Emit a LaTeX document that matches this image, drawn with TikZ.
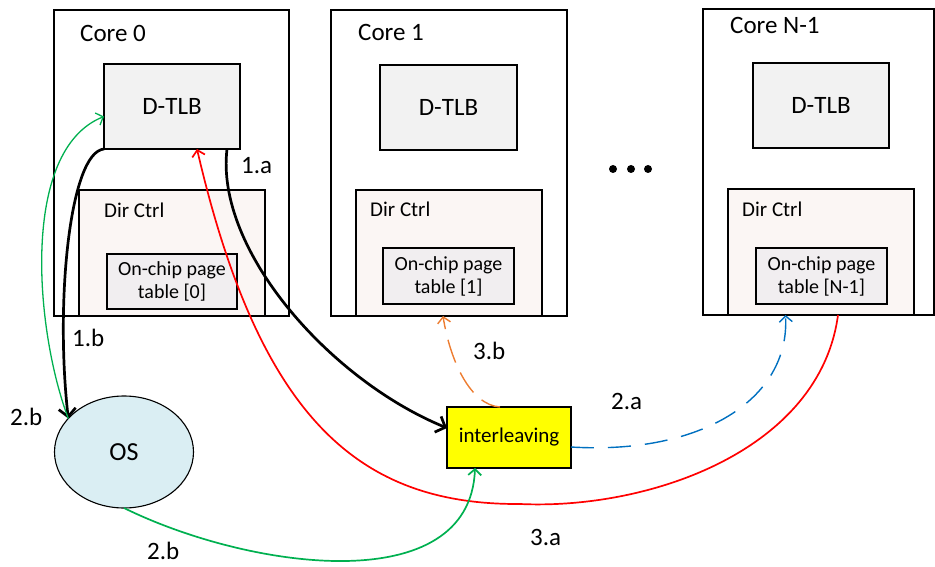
\documentclass[tikz,border=0pt]{standalone}
\usepackage{fontspec}
\setmainfont{Carlito}
\usetikzlibrary{arrows.meta,shapes.geometric}
\definecolor{tlbfill}{HTML}{F2F2F2}
\definecolor{dirfill}{HTML}{FBF6F4}
\definecolor{ocfill}{HTML}{F1EEF0}
\definecolor{osfill}{HTML}{DAEEF3}
\definecolor{ilyellow}{HTML}{FFFF00}
\definecolor{cgreen}{HTML}{00B050}
\definecolor{cred}{HTML}{FF0000}
\definecolor{corange}{HTML}{ED7D31}
\definecolor{cblue}{HTML}{0070C0}
\begin{document}
\begin{tikzpicture}[x=1pt,y=-1pt,
  box/.style={draw, line width=1.1pt, anchor=north west, inner sep=0pt, outer sep=0pt},
  corebox/.style={box, fill=white},
  tlbbox/.style={box, fill=tlbfill, font=\fontsize{25}{30}\selectfont},
  dirbox/.style={box, fill=dirfill},
  ocbox/.style={box, fill=ocfill, align=center, font=\fontsize{20}{23}\selectfont},
  corelbl/.style={anchor=base west, inner sep=0pt, font=\fontsize{25}{30}\selectfont},
  dirlbl/.style={anchor=base west, inner sep=0pt, font=\fontsize{21}{25}\selectfont},
  steplbl/.style={anchor=base west, inner sep=0pt, font=\fontsize{25}{30}\selectfont},
  thinhead/.style={-{Straight Barb[length=6pt,width=13pt]}},
  thickhead/.style={-{Straight Barb[length=8pt,width=17pt]}},
]
\useasboundingbox (0,0) rectangle (935,567);

% Core 0
\node[corebox, minimum width=235pt, minimum height=306pt] (core0) at (54,10) {};
\node[corelbl] (core0l) at (80,42) {Core 0};
\node[tlbbox, minimum width=136pt, minimum height=85pt] (dtlb0) at (104,64) {D-TLB};
\node[dirbox, minimum width=186pt, minimum height=126pt] (dir0) at (79,190) {};
\node[dirlbl] (dir0l) at (104,218) {Dir Ctrl};
\node[ocbox, minimum width=130pt, minimum height=55pt] (oc0) at (107,254) {On-chip page\\table [0]};

% Core 1
\node[corebox, minimum width=236pt, minimum height=306pt] (core1) at (331,10) {};
\node[corelbl] (core1l) at (358,41) {Core 1};
\node[tlbbox, minimum width=137pt, minimum height=85pt] (dtlb1) at (380,65) {D-TLB};
\node[dirbox, minimum width=186pt, minimum height=126pt] (dir1) at (356,190) {};
\node[dirlbl] (dir1l) at (370,217) {Dir Ctrl};
\node[ocbox, minimum width=131pt, minimum height=56pt] (oc1) at (383,248) {On-chip page\\table [1]};

% Core N-1
\node[corebox, minimum width=231pt, minimum height=306pt] (coreN) at (703,9) {};
\node[corelbl] (coreNl) at (730,34) {Core N-1};
\node[tlbbox, minimum width=136pt, minimum height=85pt] (dtlbN) at (753,63) {D-TLB};
\node[dirbox, minimum width=186pt, minimum height=126pt] (dirN) at (728,189) {};
\node[dirlbl] (dirNl) at (742,217) {Dir Ctrl};
\node[ocbox, minimum width=131pt, minimum height=56pt] (ocN) at (756,248) {On-chip page\\table [N-1]};

% dots
\fill (613,169) circle (4pt);
\fill (631,169) circle (4pt);
\fill (648,169) circle (4pt);

% OS and interleaving
\node[ellipse, draw, line width=1.1pt, fill=osfill, minimum width=139pt, minimum height=112pt, inner sep=0pt, outer sep=0pt, font=\fontsize{26}{30}\selectfont] (os) at (124,452) {OS};
\node[box, fill=ilyellow, minimum width=124pt, minimum height=61pt, font=\fontsize{21}{25}\selectfont] (inter) at (447,407) {interleaving};

% connectors
\coordinate (redtip) at ([xshift=25pt]dtlb0.south);
\coordinate (redstart) at ([xshift=17pt]dirN.south);
\coordinate (redlow) at (520,504);
\draw[cred, line width=1.7pt, thinhead] (redstart) .. controls (820,450) and (650,510) .. (redlow)
   .. controls (360,505) and (260,420) .. (redtip);

\draw[line width=2.7pt, thickhead] (dtlb0.south west) .. controls (70,152) and (55,300) .. (os.149);
\coordinate (blkstart) at ([xshift=-13pt]dtlb0.south east);
\coordinate (intin) at ([yshift=9.5pt]inter.west);
\draw[line width=2.7pt, thickhead] (blkstart) .. controls (215,250) and (330,380) .. (intin);

\draw[cgreen, line width=1.3pt, thinhead] (os.149) .. controls (35,330) and (20,150) .. ([yshift=-10pt]dtlb0.west);
\draw[cgreen, line width=1.7pt, thinhead] (os.south) .. controls (250,570) and (470,600) .. ([xshift=-34pt]inter.south);

\draw[corange, line width=1.4pt, dash pattern=on 24pt off 11pt, dash phase=4pt, thinhead] ([xshift=-9pt]inter.north) .. controls (470,405) and (450,360) .. ([xshift=-6pt]core1.south);
\draw[cblue, line width=1.4pt, dash pattern=on 23pt off 14pt, thinhead] ([yshift=-9.5pt]inter.east) .. controls (700,455) and (790,400) .. ([xshift=-33pt]coreN.south);

% labels
\node[steplbl] (l1a) at (241,174) {1.a};
\node[steplbl] (l1b) at (72,346) {1.b};
\node[steplbl] (l2b) at (10,425) {2.b};
\node[steplbl] (l2bb) at (147,559) {2.b};
\node[steplbl] (l3b) at (473,359) {3.b};
\node[steplbl] (l2a) at (611,409) {2.a};
\node[steplbl] (l3a) at (530,545) {3.a};
\end{tikzpicture}
\end{document}
